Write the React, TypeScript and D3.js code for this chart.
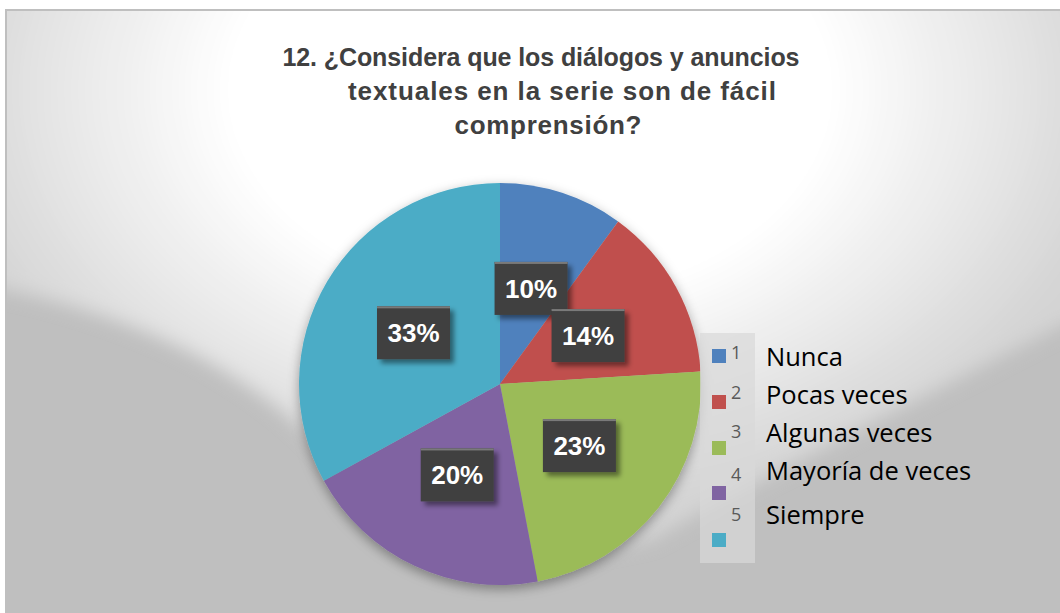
import React from "react";
import * as d3 from "d3";

// chart values
const codes = ["1", "2", "3", "4", "5"];
const categories = ["Nunca", "Pocas veces", "Algunas veces", "Mayoría de veces", "Siempre"];
const percents = [10, 14, 23, 20, 33];
const colors = ["#4f81bd", "#c0504d", "#9bbb59", "#8064a2", "#4bacc6"];
const titleLines = [
  "12. ¿Considera que los diálogos y anuncios",
  "textuales en la serie son de fácil",
  "comprensión?",
];

const W = 1060;
const H = 613;
const cx = 500;
const cy = 384;
const R = 201;

const App: React.FC = () => {
  const pie = d3
    .pie<number>()
    .sort(null)
    .value((d) => d);
  const arcs = pie(percents);
  const arc = d3.arc<d3.PieArcDatum<number>>().innerRadius(0).outerRadius(R);

  // legend rows (the legend is a bit uneven in the original)
  const labelY = [366, 404, 442, 480, 524];
  const codeY = [359, 399, 438, 481, 521];
  const markerY = [349, 395, 441, 486, 533];

  const titleX = [541, 562, 548];
  const titleLen = [517, 428, 187];
  const titleSize = [25, 26, 26];

  return (
    <svg
      width={W}
      height={H}
      style={{ position: "absolute", left: 0, top: 0 }}
      fontFamily="'Liberation Sans', Arial, sans-serif"
    >
      <defs>
        <clipPath id="chartClip">
          <rect x={6} y={10} width={W - 6} height={H - 10} />
        </clipPath>
        <radialGradient
          id="glowFill"
          gradientUnits="userSpaceOnUse"
          cx={530}
          cy={90}
          r={600}
          gradientTransform="translate(530 90) scale(1 0.7) translate(-530 -90)"
        >
          <stop offset="0" stopColor="#ffffff" />
          <stop offset="0.5" stopColor="#ffffff" />
          <stop offset="1" stopColor="#d4d4d4" />
        </radialGradient>
        <filter id="soft" x="-20%" y="-20%" width="140%" height="140%">
          <feGaussianBlur stdDeviation="9" />
        </filter>
        <filter id="pieShadow" x="-20%" y="-20%" width="140%" height="140%">
          <feDropShadow dx="0" dy="4" stdDeviation="6" floodColor="#000" floodOpacity="0.35" />
        </filter>
        <filter id="boxShadow" x="-30%" y="-30%" width="160%" height="160%">
          <feDropShadow dx="4" dy="4" stdDeviation="2.5" floodColor="#000" floodOpacity="0.45" />
        </filter>
      </defs>

      {/* background */}
      <rect x={6} y={10} width={W - 6} height={H - 10} fill="#bfbfbf" />
      <g clipPath="url(#chartClip)">
        <path
          d="M -60 -60 L 1120 -60 L 1120 300 L 1060 326 C 900 410, 760 480, 650 540 L 500 570 L 350 480 C 270 380, 150 320, 6 290 L -60 272 Z"
          fill="url(#glowFill)"
          filter="url(#soft)"
        />
      </g>
      <path d={`M 6 ${H} V 10 H ${W}`} fill="none" stroke="#bfbfbf" strokeWidth={2} />

      {/* title */}
      {titleLines.map((t, i) => (
        <text
          key={t}
          x={titleX[i]}
          y={66 + i * 34}
          textAnchor="middle"
          fontSize={titleSize[i]}
          fontWeight="bold"
          fill="#404040"
          textLength={titleLen[i]}
          lengthAdjust="spacing"
        >
          {t}
        </text>
      ))}

      {/* pie */}
      <g transform={`translate(${cx},${cy})`}>
        <g filter="url(#pieShadow)">
          {arcs.map((a, i) => (
            <path key={i} d={arc(a) || ""} fill={colors[i]} />
          ))}
        </g>
        {arcs.map((a, i) => {
          const [lx, ly] = arc.centroid(a);
          return (
            <g key={"l" + i} transform={`translate(${lx},${ly})`}>
              <rect x={-36.5} y={-26.5} width={73} height={53} fill="#404040" filter="url(#boxShadow)" />
              <rect x={-36.5} y={-26.5} width={73} height={2} fill="#7a7a7a" />
              <text y={9.5} textAnchor="middle" fontSize={26} fontWeight="bold" fill="#ffffff">
                {a.data}%
              </text>
            </g>
          );
        })}
      </g>

      {/* legend */}
      <rect x={700} y={333} width={55} height={230} fill="#d9d9d9" fillOpacity={0.7} />
      {categories.map((c, i) => (
        <g key={c} fontFamily="'Open Sans', Lato, sans-serif">
          <rect x={712} y={markerY[i]} width={14} height={14} fill={colors[i]} />
          <text x={731} y={codeY[i]} fontSize={18} fill="#595959">
            {codes[i]}
          </text>
          <text x={766} y={labelY[i]} fontSize={25.5} fill="#000000">
            {c}
          </text>
        </g>
      ))}
    </svg>
  );
};

export default App;
